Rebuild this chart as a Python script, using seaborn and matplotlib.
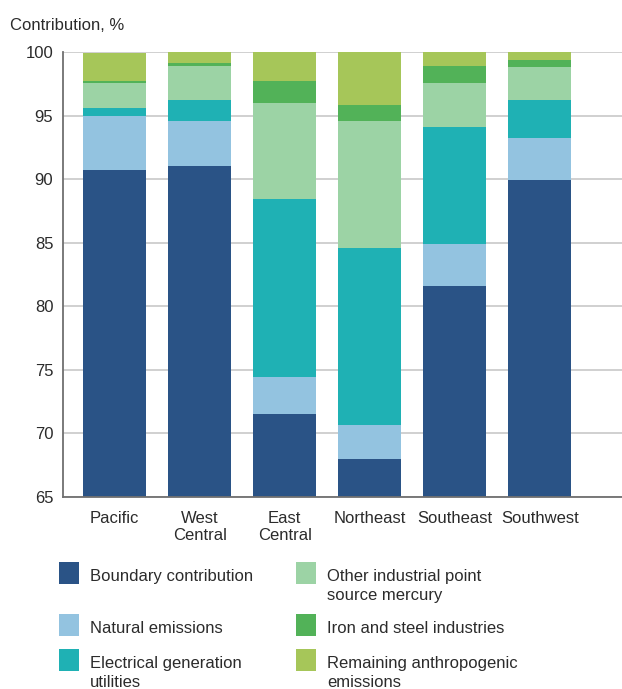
import numpy as np
import pandas as pd
import matplotlib
matplotlib.use('Agg')
import matplotlib.pyplot as plt
from matplotlib.patches import Rectangle
import seaborn as sns

# data (percent contribution per source, stacked bottom -> top)
REGIONS = ['Pacific', 'West\nCentral', 'East\nCentral', 'Northeast', 'Southeast', 'Southwest']
boundary = [90.7, 91.0, 71.5, 68.0, 81.6, 89.9]
natural = [4.3, 3.6, 2.9, 2.7, 3.3, 3.3]
electrical = [0.6, 1.6, 14.0, 13.9, 9.2, 3.0]
other_industrial = [2.0, 2.7, 7.6, 10.0, 3.5, 2.6]
iron_steel = [0.1, 0.2, 1.7, 1.2, 1.3, 0.6]
remaining = [2.2, 0.9, 2.3, 4.2, 1.1, 0.6]

SOURCES = ['Boundary contribution', 'Natural emissions', 'Electrical generation\nutilities',
           'Other industrial point\nsource mercury', 'Iron and steel industries',
           'Remaining anthropogenic\nemissions']
COLORS = ['#2a5386', '#93c3e0', '#1fb1b4', '#9cd3a5', '#52b258', '#a6c659']
YTICKS = [65, 70, 75, 80, 85, 90, 95, 100]

INK, SPINE, GRID = '#2b2b2b', '#707070', '#c4c4c4'

sns.set_style('white')
plt.rcParams['font.family'] = ['Liberation Sans', 'DejaVu Sans']
plt.rcParams['font.size'] = 12

df = pd.DataFrame({'region': REGIONS, 'b': boundary, 'n': natural, 'e': electrical,
                   'o': other_industrial, 'i': iron_steel, 'r': remaining})
cum = df[['b', 'n', 'e', 'o', 'i', 'r']].cumsum(axis=1)

W, H = 622, 689
fig = plt.figure(figsize=(W / 100, H / 100), dpi=100)
ax = fig.add_axes([63 / W, 1 - 497 / H, 1 - 63 / W, (497 - 52) / H])

# stacked look: draw cumulative totals from the top layer down
for col, c in zip(cum.columns[::-1], COLORS[::-1]):
    sns.barplot(x=df['region'], y=cum[col], color=c, saturation=1, width=0.74,
                order=REGIONS, ax=ax, zorder=2, linewidth=0, edgecolor='none')

ax.set_ylim(65, 100)
ax.set_xlim(-0.609, 5.968)
ax.set_yticks(YTICKS)
ax.yaxis.grid(True, color=GRID, lw=1.1, zorder=0)
ax.set_axisbelow(True)
ax.set(xlabel='', ylabel='')
for s in ['top', 'right']:
    ax.spines[s].set_visible(False)
for s in ['left', 'bottom']:
    ax.spines[s].set_color(SPINE)
    ax.spines[s].set_linewidth(1.3)
ax.tick_params(axis='y', length=0, pad=7, labelsize=12, labelcolor=INK)
ax.tick_params(axis='x', length=0, pad=10, labelsize=12, labelcolor=INK)
for t in ax.get_xticklabels():
    t.set_linespacing(1.15)

fig.text(10 / W, 1 - 30 / H, 'Contribution, %', fontsize=12, color=INK, va='baseline')

# legend laid out by hand: two columns, rows aligned across columns
col_x = [59, 296]
row_top = [562, 614, 649]
for k, (lab, c) in enumerate(zip(SOURCES, COLORS)):
    cx, ry = col_x[k // 3], row_top[k % 3]
    fig.add_artist(Rectangle((cx / W, 1 - (ry + 22) / H), 20 / W, 22 / H,
                             transform=fig.transFigure, color=c, lw=0))
    fig.text((cx + 31) / W, 1 - (ry + 7) / H, lab, fontsize=12, color=INK,
             va='top', ha='left', linespacing=1.32)

plt.savefig('out.png', dpi=100)
